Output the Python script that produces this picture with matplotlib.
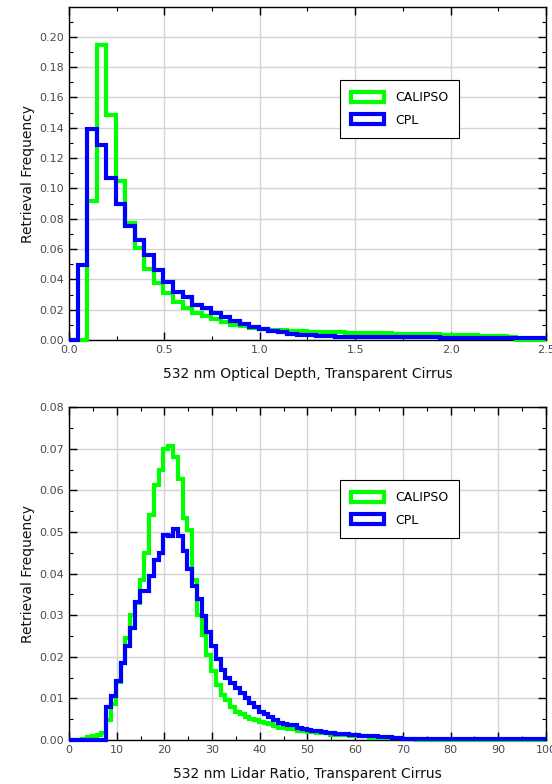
import numpy as np
import matplotlib
matplotlib.use("Agg")
import matplotlib.pyplot as plt
from matplotlib.patches import Patch
from matplotlib.ticker import MultipleLocator, FormatStrFormatter

plt.rcParams['font.family'] = ['DejaVu Sans']

# ---------------- data ----------------
series_names = ["CALIPSO", "CPL"]
series_colors = ["#00ff00", "#0000ff"]

# Optical depth histogram, bin width 0.05 (first bin starts at 0, bins start at -0.005 + 0.05k)
od_bin_width = 0.05
od_calipso = [0, 0, 0.092, 0.1947, 0.1485, 0.105, 0.077, 0.0605, 0.047, 0.0374,
              0.031, 0.0253, 0.021, 0.0176, 0.016, 0.0138, 0.0118, 0.0102, 0.0092, 0.0082,
              0.0074, 0.0068, 0.0063, 0.006, 0.0057, 0.0055, 0.0053, 0.0051, 0.005, 0.0049,
              0.0048, 0.0046, 0.0045, 0.0044, 0.0042, 0.0041, 0.004, 0.0038, 0.0037, 0.0036,
              0.0034, 0.0032, 0.003, 0.0028, 0.0026, 0.0024, 0.0022, 0.0, 0.0, 0.0, 0.0]
od_cpl = [0, 0.0495, 0.139, 0.1287, 0.107, 0.090, 0.075, 0.066, 0.056, 0.046,
          0.0385, 0.032, 0.0286, 0.023, 0.021, 0.0176, 0.015, 0.0127, 0.0105, 0.0088,
          0.0075, 0.0062, 0.005, 0.004, 0.0033, 0.003, 0.0027, 0.0025, 0.0023, 0.0022,
          0.0021, 0.002, 0.002, 0.0019, 0.0019, 0.0018, 0.0018, 0.0017, 0.0017, 0.0016,
          0.0016, 0.0015, 0.0015, 0.0015, 0.0014, 0.0014, 0.0014, 0.0013, 0.0013, 0.0013, 0.0013]

# Lidar ratio histogram, bin width 1 sr (bins start at k - 0.2)
lr_bin_width = 1.0
lr_calipso = [0, 0, 0, 0.0003, 0.0008, 0.0010, 0.0012, 0.0018, 0.0048, 0.0087,
              0.0140, 0.0185, 0.0245, 0.0301, 0.0330, 0.0385, 0.0450, 0.0540, 0.0612, 0.0650,
              0.0699, 0.0708, 0.0680, 0.0627, 0.0534, 0.0506, 0.0385, 0.0300, 0.0253, 0.0205,
              0.0165, 0.0133, 0.0108, 0.0096, 0.0080, 0.0068, 0.0063, 0.0055, 0.0050, 0.0048,
              0.0044, 0.0040, 0.0039, 0.0034, 0.0030, 0.0028, 0.0026, 0.0026, 0.0022, 0.0022,
              0.0019, 0.0019, 0.0016, 0.0016, 0.0016, 0.0012, 0.0012, 0.0012, 0.0012, 0.0010,
              0.0010, 0.0010, 0.0010, 0.0006, 0.0006, 0.0006, 0.0006, 0.0004, 0.0004, 0.0004,
              0.0002, 0.0002, 0.0002, 0.0001, 0.0001, 0, 0, 0, 0, 0,
              0, 0, 0, 0, 0, 0, 0, 0, 0, 0,
              0, 0, 0, 0, 0, 0, 0, 0, 0, 0, 0]
lr_cpl = [0, 0, 0, 0, 0, 0, 0, 0, 0.0079, 0.0105,
          0.0142, 0.0184, 0.0225, 0.0270, 0.0333, 0.0358, 0.0358, 0.0394, 0.0434, 0.0450,
          0.0494, 0.0490, 0.0508, 0.0490, 0.0455, 0.0411, 0.0370, 0.0339, 0.0297, 0.0259,
          0.0225, 0.0194, 0.0168, 0.0150, 0.0138, 0.0125, 0.0112, 0.0100, 0.0090, 0.0080,
          0.0068, 0.0063, 0.0056, 0.0048, 0.0042, 0.0039, 0.0036, 0.0036, 0.0028, 0.0027,
          0.0024, 0.0022, 0.0022, 0.0020, 0.0016, 0.0016, 0.0014, 0.0014, 0.0014, 0.0012,
          0.0012, 0.0010, 0.0010, 0.0010, 0.0010, 0.0008, 0.0008, 0.0008, 0.0005, 0.0004,
          0.0003, 0.0002, 0.0002, 0.0002, 0.0002, 0.0002, 0.0002, 0.0002, 0.0002, 0.0002,
          0.0002, 0.0002, 0.0002, 0.0002, 0.0002, 0.0002, 0.0002, 0.0002, 0.0002, 0.0002,
          0.0002, 0.0002, 0.0002, 0.0002, 0.0002, 0.0002, 0.0002, 0.0002, 0.0002, 0.0002, 0.0002]

od_xlim = (0.0, 2.5)
lr_xlim = (0.0, 100.0)
od_ylim = (0.0, 0.2195)
lr_ylim = (0.0, 0.08)

od_xlabel = "532 nm Optical Depth, Transparent Cirrus"
lr_xlabel = "532 nm Lidar Ratio, Transparent Cirrus"
ylabel = "Retrieval Frequency"


def make_edges(n, width, offset, lo, hi):
    inner = offset + width * np.arange(1, n)
    return np.concatenate([[lo], inner, [hi]])


fig = plt.figure(figsize=(5.52, 7.84), dpi=100)
ax1 = fig.add_axes([0.125, 0.5663, 0.864, 0.4244])
ax2 = fig.add_axes([0.125, 0.0561, 0.864, 0.4244])

panels = [
    (ax1, [od_calipso, od_cpl], od_bin_width, -0.005, od_xlim, od_ylim, od_xlabel,
     0.5, 0.25, 0.02, 0.01, "%.1f", "%.2f", np.arange(0, 0.2001, 0.02)),
    (ax2, [lr_calipso, lr_cpl], lr_bin_width, -0.2, lr_xlim, lr_ylim, lr_xlabel,
     10, 5, 0.01, 0.005, "%d", "%.2f", np.arange(0, 0.0801, 0.01)),
]

for (ax, series, bw, off, xl, yl, xlab, xmaj, xmin, ymaj, ymin, xfmt, yfmt, yticks) in panels:
    for vals, col, name in zip(series, series_colors, series_names):
        edges = make_edges(len(vals), bw, off, xl[0], xl[1])
        ax.stairs(vals, edges, baseline=None, color=col, linewidth=3.0,
                  clip_on=False, zorder=3, label=name)
    ax.set_xlim(*xl)
    ax.set_ylim(*yl)
    ax.xaxis.set_major_locator(MultipleLocator(xmaj))
    ax.xaxis.set_minor_locator(MultipleLocator(xmin))
    ax.set_yticks(yticks)
    ax.yaxis.set_minor_locator(MultipleLocator(ymin))
    ax.xaxis.set_major_formatter(FormatStrFormatter(xfmt))
    ax.yaxis.set_major_formatter(FormatStrFormatter(yfmt))
    ax.grid(True, which='major', color='#d4d4d4', linewidth=1.0, zorder=0)
    ax.set_axisbelow(True)
    ax.tick_params(which='both', direction='in', top=True, right=True,
                   color='black', labelcolor='#4a4a4a', labelsize=8)
    ax.tick_params(which='major', length=6, width=1)
    ax.tick_params(which='minor', length=3, width=0.8)
    for sp in ax.spines.values():
        sp.set_color('black')
        sp.set_linewidth(1.0)
    ax.set_xlabel(xlab, fontsize=10, labelpad=9, color='#111111')
    ax.set_ylabel(ylabel, fontsize=10, labelpad=3, color='#111111')
    handles = [Patch(facecolor='white', edgecolor=c, linewidth=3.0, label=n)
               for c, n in zip(series_colors, series_names)]
    leg = ax.legend(handles=handles, loc='upper left', bbox_to_anchor=(0.568, 0.7815),
                    fontsize=9, frameon=True, fancybox=False, framealpha=1,
                    edgecolor='black', handlelength=2.6, handleheight=0.85,
                    handletextpad=0.9, labelspacing=0.75, borderpad=0.9,
                    borderaxespad=0.0)
    leg.get_frame().set_linewidth(0.8)
    leg.set_zorder(5)

fig.savefig("out.png", dpi=100)
